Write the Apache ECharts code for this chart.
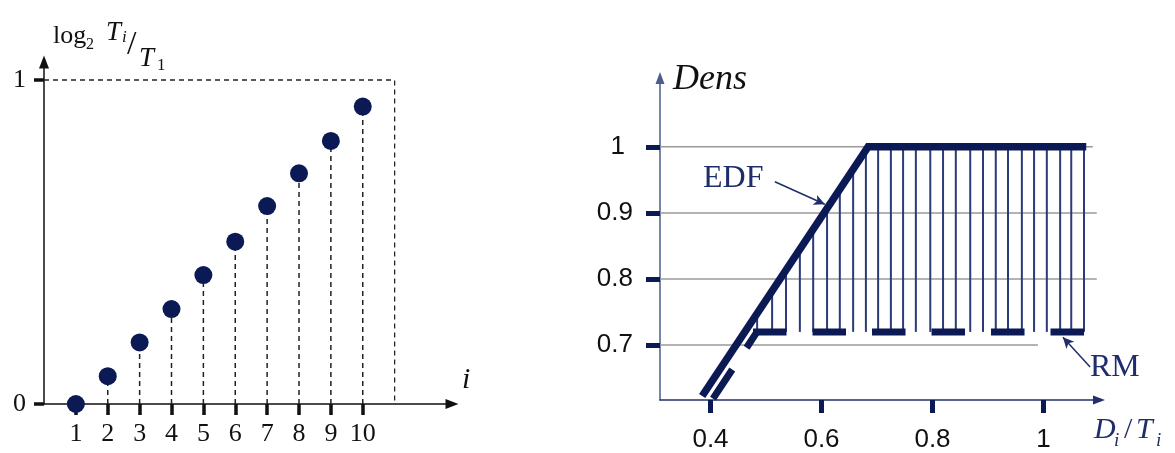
<!DOCTYPE html>
<html>
<head>
<meta charset="utf-8">
<script src="https://cdn.jsdelivr.net/npm/echarts@6/dist/echarts.min.js"></script>
<style>
  html, body { margin: 0; padding: 0; background: #fff; }
  #chart { width: 1175px; height: 453px; }
</style>
</head>
<body>
<div id="chart"></div>
<script>
// ---- left panel: log2(Ti/T1) for each task i ----
const taskIdx  = [1, 2, 3, 4, 5, 6, 7, 8, 9, 10]
const logRatio = [0, 0.086, 0.19, 0.293, 0.398, 0.501, 0.611, 0.712, 0.812, 0.918]
const leftYTicks = [0, 1]
const frameX = 11   // dashed frame corner (i, value)
const frameY = 1

// ---- right panel: Dens vs Di/Ti ----
const densTicks  = [0.7, 0.8, 0.9, 1]
const ratioTicks = [0.4, 0.6, 0.8, 1]
const levelEnds  = [0.99, 1.096, 1.096, 1.089]   // where each grey level line stops
const edfX = [0.385, 0.684, 1.077]
const edfY = [0.623, 1, 1]
const rmDiagX = [0.4045, 0.4838]
const rmDiagY = [0.619, 0.72]
const rmFlatX = [0.4766, 1.073]
const rmLevel = 0.72
const hatchX = [0.484, 0.511, 0.536, 0.561, 0.585, 0.610, 0.633, 0.657, 0.680,
                0.702, 0.725, 0.747, 0.770, 0.796, 0.819, 0.842, 0.868, 0.891,
                0.914, 0.936, 0.961, 0.983, 1.006, 1.030, 1.050, 1.073]
const hatchTop = [0.748, 0.782, 0.813, 0.845, 0.875, 0.907, 0.936, 0.966, 0.995,
                  1, 1, 1, 1, 1, 1, 1, 1, 1, 1, 1, 1, 1, 1, 1, 1, 1]
const edfArrow = [[0.516, 0.947], [0.606, 0.913]]
const rmArrow  = [[1.084, 0.667], [1.035, 0.712]]

const NAVY = '#0b1a55'
const INK  = '#1f2d6b'
const SERIF = '"Liberation Serif", "DejaVu Serif", serif'
const SANS  = '"Liberation Sans", Arial, sans-serif'

const RX_MIN = 0.309, RX_MAX = 1.1
const RY_MIN = 0.617, RY_MAX = 1.104

const chart = echarts.init(document.getElementById('chart'), null, { renderer: 'canvas' })

function txt(x, y, text, font, fill) {
  return { type: 'text', x, y, silent: true,
    style: { text, font, fill: fill || '#111', align: 'left', verticalAlign: 'middle' } }
}

chart.setOption({
  animation: false,
  backgroundColor: '#fff',
  grid: [
    { left: 44, top: 62, width: 408, height: 342 },
    { left: 660, top: 78, width: 439, height: 323 },
  ],
  xAxis: [
    {
      type: 'value', gridIndex: 0, min: 0, max: 12.8,
      axisLine: { show: true, symbol: ['none', 'triangle'], symbolSize: [10, 13],
        lineStyle: { color: '#111', width: 1.5 } },
      axisTick: { show: true, customValues: taskIdx, length: 11, lineStyle: { color: '#111', width: 3.5 } },
      axisLabel: { customValues: taskIdx, fontFamily: SERIF, fontSize: 26, color: '#111', margin: 17 },
      splitLine: { show: false },
    },
    {
      type: 'value', gridIndex: 1, min: RX_MIN, max: RX_MAX,
      axisLine: { show: true, symbol: ['none', 'triangle'], symbolSize: [9, 12],
        lineStyle: { color: '#23306b', width: 1.5 } },
      axisTick: { show: true, customValues: ratioTicks, length: 13, lineStyle: { color: NAVY, width: 5 } },
      axisLabel: { customValues: ratioTicks, fontFamily: SANS, fontSize: 26, color: '#111', margin: 27,
        formatter: v => String(v) },
      splitLine: { show: false },
    },
  ],
  yAxis: [
    {
      type: 'value', gridIndex: 0, min: 0, max: 1.0556,
      axisLine: { show: true, symbol: ['none', 'triangle'], symbolSize: [10, 13],
        lineStyle: { color: '#111', width: 1.5 } },
      axisTick: { show: true, customValues: leftYTicks, length: 10, lineStyle: { color: '#111', width: 3.5 } },
      axisLabel: { customValues: leftYTicks, fontFamily: SERIF, fontSize: 26, color: '#111', margin: 18 },
      splitLine: { show: false },
    },
    {
      type: 'value', gridIndex: 1, min: RY_MIN, max: RY_MAX,
      axisLine: { show: true, symbol: ['none', 'triangle'], symbolSize: [9, 12],
        lineStyle: { color: '#4d5b8e', width: 1.5 } },
      axisTick: { show: true, customValues: densTicks, length: 14, lineStyle: { color: NAVY, width: 5 } },
      axisLabel: { customValues: densTicks, fontFamily: SANS, fontSize: 26, color: '#111', margin: 27,
        formatter: v => v === 1 ? '{one|1}' : String(v),
        rich: { one: { fontFamily: SANS, fontSize: 26, color: '#111', padding: [0, 8, 0, 0] } } },
      splitLine: { show: false },
    },
  ],
  series: [
    // dashed frame at value 1 / i = 11
    {
      type: 'line', xAxisIndex: 0, yAxisIndex: 0, symbol: 'none', silent: true,
      data: [[0, frameY], [frameX, frameY], [frameX, 0]],
      lineStyle: { color: '#222', width: 1.3, type: [5, 4] },
    },
    // dashed drop lines
    {
      type: 'custom', xAxisIndex: 0, yAxisIndex: 0, silent: true,
      data: taskIdx.map((x, i) => [x, logRatio[i]]),
      renderItem: (params, api) => {
        const a = api.coord([api.value(0), 0])
        const b = api.coord([api.value(0), api.value(1)])
        return { type: 'line', shape: { x1: a[0], y1: a[1], x2: b[0], y2: b[1] },
          style: { stroke: '#222', lineWidth: 1.5, lineDash: [5, 4] } }
      },
    },
    {
      type: 'scatter', xAxisIndex: 0, yAxisIndex: 0, symbolSize: 18, z: 5,
      itemStyle: { color: NAVY, opacity: 1 },
      data: taskIdx.map((x, i) => [x, logRatio[i]]),
    },
    // grey level lines
    {
      type: 'custom', xAxisIndex: 1, yAxisIndex: 1, silent: true,
      data: densTicks.map((d, i) => [levelEnds[i], d]),
      renderItem: (params, api) => {
        const a = api.coord([RX_MIN, api.value(1)])
        const b = api.coord([api.value(0), api.value(1)])
        return { type: 'line', shape: { x1: a[0], y1: a[1], x2: b[0], y2: b[1] },
          style: { stroke: '#9a9a9a', lineWidth: 1.5 } }
      },
    },
    // hatch lines between RM and EDF
    {
      type: 'custom', xAxisIndex: 1, yAxisIndex: 1, silent: true,
      data: hatchX.map((x, i) => [x, hatchTop[i]]),
      renderItem: (params, api) => {
        const a = api.coord([api.value(0), rmLevel])
        const b = api.coord([api.value(0), api.value(1)])
        return { type: 'line', shape: { x1: a[0], y1: a[1], x2: b[0], y2: b[1] },
          style: { stroke: '#2b3a78', lineWidth: 2 } }
      },
    },
    // EDF
    {
      type: 'line', xAxisIndex: 1, yAxisIndex: 1, symbol: 'none', clip: false, z: 6, silent: true,
      data: edfX.map((x, i) => [x, edfY[i]]),
      lineStyle: { color: NAVY, width: 7.5, cap: 'butt', join: 'miter' },
      markLine: {
        silent: true, symbol: ['none', 'arrow'], symbolSize: [8, 11], label: { show: false },
        lineStyle: { type: 'solid', color: INK, width: 1.5 },
        data: [[{ coord: edfArrow[0] }, { coord: edfArrow[1] }]],
      },
    },
    // RM (dashed)
    {
      type: 'line', xAxisIndex: 1, yAxisIndex: 1, symbol: 'none', clip: false, z: 6, silent: true,
      data: rmDiagX.map((x, i) => [x, rmDiagY[i]]),
      lineStyle: { color: NAVY, width: 7, type: [35, 26], cap: 'butt' },
    },
    {
      type: 'line', xAxisIndex: 1, yAxisIndex: 1, symbol: 'none', clip: false, z: 6, silent: true,
      data: rmFlatX.map(x => [x, rmLevel]),
      lineStyle: { color: NAVY, width: 7, type: [33.5, 26], cap: 'butt' },
      markLine: {
        silent: true, symbol: ['none', 'arrow'], symbolSize: [8, 11], label: { show: false },
        lineStyle: { type: 'solid', color: INK, width: 1.5 },
        data: [[{ coord: rmArrow[0] }, { coord: rmArrow[1] }]],
      },
    },
  ],
  graphic: [
    // left y name: log2 Ti / T1
    txt(53, 36, 'log', '26px ' + SERIF),
    txt(86, 45, '2', '16px ' + SERIF),
    txt(106, 33, 'T', 'italic 27px ' + SERIF),
    txt(122, 38, 'i', 'italic 17px ' + SERIF),
    txt(127, 45, '/', '34px ' + SERIF),
    txt(139, 59, 'T', 'italic 27px ' + SERIF),
    txt(157, 66, '1', '17px ' + SERIF),
    txt(462, 380, 'i', 'italic 30px ' + SERIF),
    // right panel names
    txt(673, 80, 'Dens', 'italic 36px ' + SERIF),
    txt(703, 179, 'EDF', '32px ' + SERIF, INK),
    txt(1090, 368, 'RM', '32px ' + SERIF, INK),
    txt(1094, 430, 'D', 'italic 30px ' + SERIF, INK),
    txt(1114, 441, 'i', 'italic 19px ' + SERIF, INK),
    txt(1124, 430, '/', '30px ' + SERIF, INK),
    txt(1136, 430, 'T', 'italic 30px ' + SERIF, INK),
    txt(1156, 441, 'i', 'italic 19px ' + SERIF, INK),
  ],
})
window.addEventListener('resize', () => chart.resize())
</script>
</body>
</html>
